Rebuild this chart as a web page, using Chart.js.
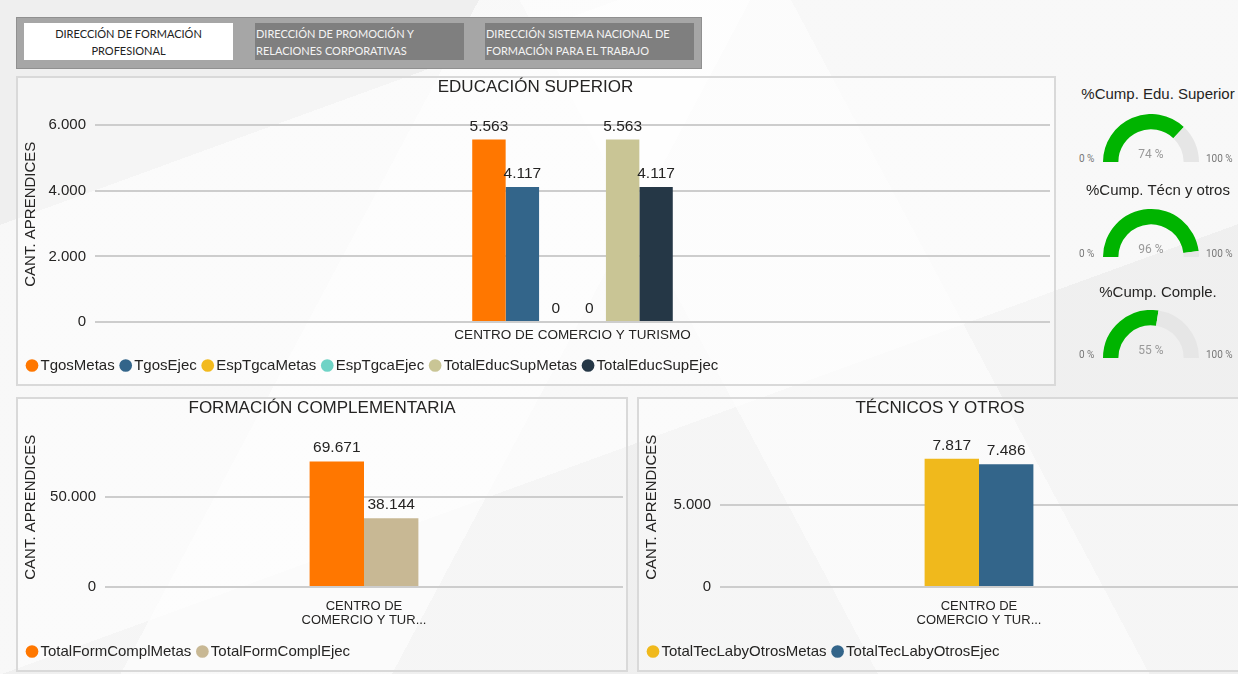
<!DOCTYPE html>
<html><head><meta charset="utf-8">
<script src="https://cdn.jsdelivr.net/npm/chart.js@4.4.1/dist/chart.umd.min.js"></script>
<style>
html,body{margin:0;padding:0}
body{width:1238px;height:674px;overflow:hidden;position:relative;background:#f3f3f3;font-family:"Liberation Sans",Arial,sans-serif}
.bg{position:absolute;left:0;top:0;width:1238px;height:674px;background:
 linear-gradient(118deg, rgba(255,255,255,0) 0 30%, rgba(255,255,255,.6) 30% 47%, rgba(255,255,255,0) 47% 100%),
 linear-gradient(62deg, rgba(255,255,255,0) 0 55%, rgba(255,255,255,.5) 55% 72%, rgba(255,255,255,0) 72% 100%),
 linear-gradient(160deg, rgba(238,238,238,.8) 0 20%, rgba(250,250,250,.7) 20% 60%, rgba(238,238,238,.7) 60% 100%);}
.panel{position:absolute;border:2px solid #d9d9d9;box-sizing:border-box;background:rgba(255,255,255,.4)}
.tabs{position:absolute;left:16px;top:17px;width:686px;height:52px;background:#a6a6a6;border:1px solid #909090;box-sizing:border-box}
.tab{position:absolute;top:5px;height:37px;width:209px;font-family:Lato,"Open Sans",sans-serif;font-size:11px;line-height:17px;box-sizing:border-box;padding-top:2px}
.t1{left:7px;background:#fff;color:#222;text-align:center}
.t2{left:238px;background:#7f7f7f;color:#f4f4f4;padding-left:1px}
.t3{left:468px;background:#7f7f7f;color:#f4f4f4;padding-left:1px}
canvas{position:absolute}
.gt{position:absolute;left:1077px;width:162px;text-align:center;font-size:15px;color:#252423}
.g0{position:absolute;left:1079px;font-size:10px;color:#777;font-family:Roboto,"Open Sans",sans-serif}
.g100{position:absolute;left:1206px;font-size:10px;color:#777;font-family:Roboto,"Open Sans",sans-serif}
.gv{position:absolute;left:1121px;width:60px;text-align:center;font-size:12px;color:#999;font-family:Roboto,"Open Sans",sans-serif}
</style>
</head>
<body>
<div class="bg"></div>
<div class="tabs">
  <div class="tab t1">DIRECCIÓN DE FORMACIÓN<br>PROFESIONAL</div>
  <div class="tab t2">DIRECCIÓN DE PROMOCIÓN Y<br>RELACIONES CORPORATIVAS</div>
  <div class="tab t3">DIRECCIÓN SISTEMA NACIONAL DE<br>FORMACIÓN PARA EL TRABAJO</div>
</div>
<div class="panel" style="left:16px;top:76px;width:1040px;height:310px"></div>
<div class="panel" style="left:16px;top:397px;width:612px;height:275px"></div>
<div class="panel" style="left:637px;top:397px;width:612px;height:275px"></div>

<canvas id="c1" width="1040" height="310" style="left:16px;top:76px"></canvas>
<canvas id="c2" width="612" height="275" style="left:16px;top:397px"></canvas>
<canvas id="c3" width="610" height="275" style="left:637px;top:397px"></canvas>

<div id="gauges"></div>

<script>
// ---------- DATA ----------
const supCategories = ['CENTRO DE COMERCIO Y TURISMO'];
const supSeries = ['TgosMetas','TgosEjec','EspTgcaMetas','EspTgcaEjec','TotalEducSupMetas','TotalEducSupEjec'];
const supValues = [5563, 4117, 0, 0, 5563, 4117];
const supColors = ['#FF7700','#33658A','#F2BA1E','#6FD3C6','#C9C595','#253746'];
const supTicks = [0, 2000, 4000, 6000];

const complCategories = [['CENTRO DE','COMERCIO Y TUR...']];
const complSeries = ['TotalFormComplMetas','TotalFormComplEjec'];
const complValues = [69671, 38144];
const complColors = ['#FF7700','#C8B894'];
const complTicks = [0, 50000];

const tecCategories = [['CENTRO DE','COMERCIO Y TUR...']];
const tecSeries = ['TotalTecLabyOtrosMetas','TotalTecLabyOtrosEjec'];
const tecValues = [7817, 7486];
const tecColors = ['#F0B91C','#33658A'];
const tecTicks = [0, 5000];

const gaugeTitles = ['%Cump. Edu. Superior','%Cump. Técn y otros','%Cump. Comple.'];
const gaugeValues = [74, 96, 55];
const gaugeMin = 0, gaugeMax = 100;

// ---------- HELPERS ----------
const FONT = '"Liberation Sans", Arial, sans-serif';
const TXT = '#252423';
function fmt(v){ return String(v).replace(/\B(?=(\d{3})+(?!\d))/g, '.'); }

const valueLabels = {
  id: 'valueLabels',
  afterDatasetsDraw(chart) {
    const ctx = chart.ctx;
    ctx.save();
    ctx.font = '15.5px ' + FONT;
    ctx.fillStyle = TXT;
    ctx.textAlign = 'center';
    ctx.textBaseline = 'alphabetic';
    chart.data.datasets.forEach((ds, i) => {
      const meta = chart.getDatasetMeta(i);
      if (!chart.isDatasetVisible(i)) return;
      meta.data.forEach((el, j) => {
        ctx.fillText(fmt(ds.data[j]), el.x, el.y - 9);
      });
    });
    ctx.restore();
  }
};

function barChart(id, title, cats, names, vals, colors, ticks, cfg) {
  const datasets = names.map((n, i) => ({
    label: n, data: [vals[i]], backgroundColor: colors[i], borderWidth: 0,
    categoryPercentage: 0.21, barPercentage: 1
  }));
  return new Chart(document.getElementById(id), {
    type: 'bar',
    data: { labels: cats, datasets },
    plugins: [valueLabels],
    options: {
      responsive: false, animation: false,
      layout: { padding: { left: 5, right: cfg.padRight, top: 0, bottom: 3 } },
      plugins: {
        title: { display: true, text: title, color: TXT, font: { family: FONT, size: 17, weight: 'normal' }, padding: { top: 1, bottom: 9 } },
        legend: {
          position: 'bottom', align: 'start',
          labels: { usePointStyle: true, pointStyle: 'circle', boxWidth: 2, boxHeight: 9, color: TXT, font: { family: FONT, size: 15 }, padding: 10 }
        },
        tooltip: { enabled: false }
      },
      scales: {
        x: {
          grid: { display: false, drawTicks: false }, border: { display: false },
          ticks: { color: TXT, font: { family: FONT, size: cfg.xFont, lineHeight: 1.08 }, padding: cfg.xPad, maxRotation: 0, autoSkip: false },
          afterFit(s) { s.height = cfg.xHeight; }
        },
        y: {
          min: 0, max: cfg.max,
          grid: { color: '#cdcdcd', lineWidth: 2, drawTicks: false }, border: { display: false },
          ticks: { stepSize: ticks[1] - ticks[0], color: TXT, font: { family: FONT, size: 15 }, padding: 9, callback: v => fmt(v) },
          afterBuildTicks(s) { s.ticks = ticks.map(v => ({ value: v })); },
          title: { display: true, text: 'CANT. APRENDICES', color: TXT, font: { family: FONT, size: 15 }, padding: { top: 1, bottom: 0 } },
          afterFit(s) { s.width = cfg.yWidth; }
        }
      }
    }
  });
}

barChart('c1', 'EDUCACIÓN SUPERIOR', supCategories, supSeries, supValues, supColors, supTicks,
  { max: 6572, yWidth: 74, padRight: 6, xHeight: 26, xPad: 6, xFont: 13.5 });
barChart('c2', 'FORMACIÓN COMPLEMENTARIA', complCategories, complSeries, complValues, complColors, complTicks,
  { max: 88539, yWidth: 84, padRight: 5, xHeight: 47, xPad: 12, xFont: 13 });
barChart('c3', 'TÉCNICOS Y OTROS', tecCategories, tecSeries, tecValues, tecColors, tecTicks,
  { max: 9728, yWidth: 78, padRight: 9, xHeight: 47, xPad: 12, xFont: 13 });

// ---------- GAUGES ----------
const gaugeTops = [114, 209, 310];
const titleTops = [85, 181, 283];
const host = document.getElementById('gauges');
gaugeValues.forEach((v, i) => {
  const t = document.createElement('div'); t.className = 'gt'; t.style.top = titleTops[i] + 'px'; t.textContent = gaugeTitles[i]; host.appendChild(t);
  const c = document.createElement('canvas'); c.width = 96; c.height = 48;
  c.style.left = '1103px'; c.style.top = gaugeTops[i] + 'px'; host.appendChild(c);
  const lo = document.createElement('div'); lo.className = 'g0'; lo.style.top = (gaugeTops[i] + 39) + 'px'; lo.textContent = gaugeMin + ' %'; host.appendChild(lo);
  const hi = document.createElement('div'); hi.className = 'g100'; hi.style.top = (gaugeTops[i] + 39) + 'px'; hi.textContent = gaugeMax + ' %'; host.appendChild(hi);
  const gv = document.createElement('div'); gv.className = 'gv'; gv.style.top = (gaugeTops[i] + 33) + 'px'; gv.textContent = v + ' %'; host.appendChild(gv);
  new Chart(c, {
    type: 'doughnut',
    data: { datasets: [{ data: [v, gaugeMax - v], backgroundColor: ['#00B400', '#E6E6E6'], borderWidth: 0 }] },
    options: {
      responsive: false, animation: false, rotation: -90, circumference: 180, cutout: '68%',
      layout: { padding: 0 },
      plugins: { legend: { display: false }, tooltip: { enabled: false } }
    }
  });
});
</script>
</body></html>
